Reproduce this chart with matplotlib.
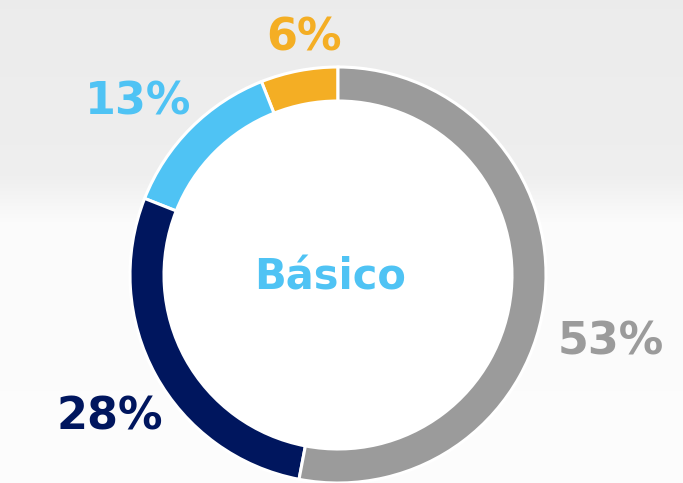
import numpy as np
import matplotlib
matplotlib.use("Agg")
import matplotlib.pyplot as plt

# data
labels = ["6%", "13%", "28%", "53%"]
values = [6, 13, 28, 53]
colors = ["#F4AE24", "#4FC3F4", "#00165E", "#9B9B9B"]
center_title = "Básico"

W, H = 683, 483
fig = plt.figure(figsize=(W / 100, H / 100), dpi=100)

# faded photo-like background
bg = fig.add_axes([0, 0, 1, 1])
rows = np.linspace(0, 1, H)
shade = np.interp(rows, [0, 0.36, 0.46, 1], [0.925, 0.935, 0.985, 0.99])
img = np.repeat(shade[:, None], W, axis=1)
bg.imshow(np.dstack([img, img, img]), aspect="auto", extent=[0, 1, 0, 1], origin="upper")
bg.axis("off")

ax = fig.add_axes([0, 0, 1, 1])

cx, cy, r = 338, H - 275, 208
ax.add_patch(plt.Circle((cx, cy), r, color="white", zorder=0))
ax.pie(values, colors=colors, startangle=90, counterclock=True,
       radius=r, center=(cx, cy), frame=True,
       wedgeprops=dict(width=34, edgecolor="white", linewidth=2.2))
ax.set_xlim(0, W)
ax.set_ylim(0, H)
ax.set_aspect("equal")
ax.axis("off")

# label positions (pixels from top-left)
label_pos = [(304, 38), (138, 102), (110, 417), (611, 342)]
font = dict(family="DejaVu Sans", weight="bold", fontsize=32)
for lab, col, (px, py) in zip(labels, colors, label_pos):
    ax.text(px, H - py, lab, color=col, ha="center", va="center", **font)

ax.text(330, H - 277, center_title, color="#4FC3F4", ha="center", va="center",
        family="DejaVu Sans", weight="bold", fontsize=30)

fig.savefig("out.png", dpi=100)
